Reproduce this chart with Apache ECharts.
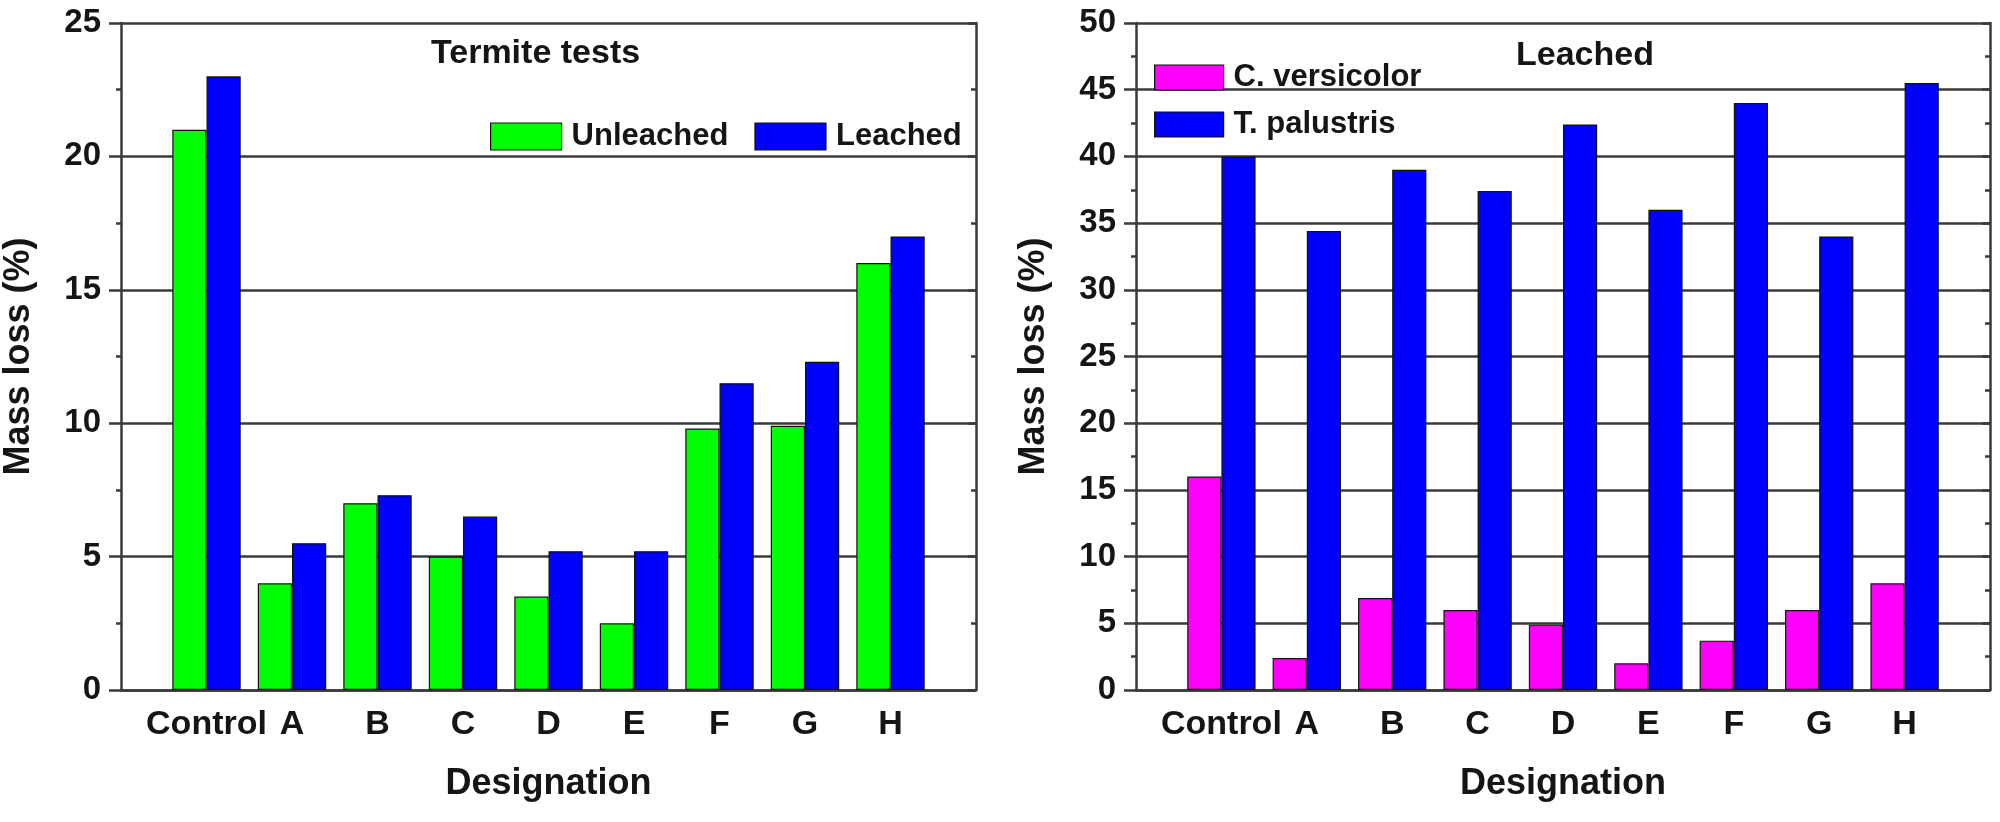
<!DOCTYPE html>
<html>
<head>
<meta charset="utf-8">
<script src="https://cdn.jsdelivr.net/npm/echarts@6.0.0/dist/echarts.min.js"></script>
<style>
  html, body { margin: 0; padding: 0; background: #fff; }
  #chart { width: 2000px; height: 822px; }
</style>
</head>
<body>
<div id="chart"></div>
<script>
// designaciones (eje x), con un hueco vacío a cada lado como en el original
var designations = ["Control", "A", "B", "C", "D", "E", "F", "G", "H"];

// panel izquierdo: ensayo de termitas
var unleached = [21, 4, 7, 5, 3.5, 2.5, 9.8, 9.9, 16];
var leachedTermite = [23, 5.5, 7.3, 6.5, 5.2, 5.2, 11.5, 12.3, 17];

// panel derecho: hongos, madera lixiviada
var versicolor = [16, 2.4, 6.9, 6, 4.9, 2, 3.7, 6, 8];
var palustris = [40, 34.4, 39, 37.4, 42.4, 36, 44, 34, 45.5];

var leftTicks = { min: 0, max: 25, interval: 5 };
var rightTicks = { min: 0, max: 50, interval: 5 };

var FONT = "Liberation Sans, Arial, sans-serif";
var INK = "#151515";
var LINE = "#3a3a3a";

function padded(arr) { return ["-"].concat(arr, ["-"]); }
var cats = [""].concat(designations, [" "]);

function xAxis(grid) {
  return {
    type: "category", gridIndex: grid, data: cats, boundaryGap: false,
    name: "Designation", nameLocation: "middle", nameGap: 76,
    nameTextStyle: { color: INK, fontFamily: FONT, fontWeight: "bold", fontSize: 36 },
    axisLine: { lineStyle: { color: LINE, width: 2.5 } },
    axisTick: { show: false },
    axisLabel: { interval: 0, margin: 18, color: INK, fontFamily: FONT, fontWeight: "bold", fontSize: 34 },
    splitLine: { show: false }
  };
}

function yLeft(grid, t, gap) {
  return {
    type: "value", gridIndex: grid, position: "left",
    min: t.min, max: t.max, interval: t.interval,
    name: "Mass loss (%)", nameLocation: "middle", nameGap: gap,
    nameTextStyle: { color: INK, fontFamily: FONT, fontWeight: "bold", fontSize: 36 },
    axisLine: { show: true, lineStyle: { color: LINE, width: 2.5 } },
    axisTick: { show: true, length: 12, lineStyle: { color: LINE, width: 2.5 } },
    minorTick: { show: true, splitNumber: 2, length: 5, lineStyle: { color: LINE, width: 2.5 } },
    axisLabel: { margin: 20, color: INK, fontFamily: FONT, fontWeight: "bold", fontSize: 33 },
    splitLine: { show: true, lineStyle: { color: LINE, width: 2.5 } }
  };
}

function yRight(grid, t) {
  return {
    type: "value", gridIndex: grid, position: "right",
    min: t.min, max: t.max, interval: t.interval,
    axisLine: { show: true, lineStyle: { color: LINE, width: 2.5 } },
    axisTick: { show: true, inside: true, length: 8, lineStyle: { color: LINE, width: 2.5 } },
    minorTick: { show: true, splitNumber: 2, length: 5, lineStyle: { color: LINE, width: 2.5 } },
    axisLabel: { show: false },
    splitLine: { show: false }
  };
}

function bars(name, data, color, xi, yi) {
  return {
    name: name, type: "bar", xAxisIndex: xi, yAxisIndex: yi,
    data: padded(data), barGap: "0%", barCategoryGap: "20%",
    itemStyle: { color: color, borderColor: "#111", borderWidth: 1.2 },
    emphasis: { disabled: true }
  };
}

var chart = echarts.init(document.getElementById("chart"), null, { renderer: "canvas" });
chart.setOption({
  animation: false,
  backgroundColor: "#fff",
  title: [
    { text: "Termite tests", left: 426, top: 32,
      textStyle: { color: INK, fontFamily: FONT, fontWeight: "bold", fontSize: 34 } },
    { text: "Leached", left: 1511, top: 34,
      textStyle: { color: INK, fontFamily: FONT, fontWeight: "bold", fontSize: 34 } }
  ],
  legend: [
    { data: ["Unleached", "Leached"], orient: "horizontal", left: 485, top: 116,
      icon: "rect", itemWidth: 71, itemHeight: 27, itemGap: 26,
      itemStyle: { borderColor: "#111", borderWidth: 1.2 },
      textStyle: { color: INK, fontFamily: FONT, fontWeight: "bold", fontSize: 31, padding: [0, 0, 0, 5] } },
    { data: ["C. versicolor", "T. palustris"], orient: "vertical", left: 1149, top: 57,
      icon: "rect", itemWidth: 69, itemHeight: 25, itemGap: 16,
      itemStyle: { borderColor: "#111", borderWidth: 1.2 },
      textStyle: { color: INK, fontFamily: FONT, fontWeight: "bold", fontSize: 31, padding: [0, 0, 0, 5] } }
  ],
  grid: [
    { left: 119, top: 23, width: 857, height: 667 },
    { left: 1136, top: 23, width: 854, height: 667 }
  ],
  xAxis: [xAxis(0), xAxis(1)],
  yAxis: [yLeft(0, leftTicks, 84), yRight(0, leftTicks), yLeft(1, rightTicks, 84), yRight(1, rightTicks)],
  series: [
    bars("Unleached", unleached, "#00ff00", 0, 0),
    bars("Leached", leachedTermite, "#0000ff", 0, 0),
    bars("C. versicolor", versicolor, "#ff00ff", 1, 2),
    bars("T. palustris", palustris, "#0000ff", 1, 2)
  ]
});
</script>
</body>
</html>
